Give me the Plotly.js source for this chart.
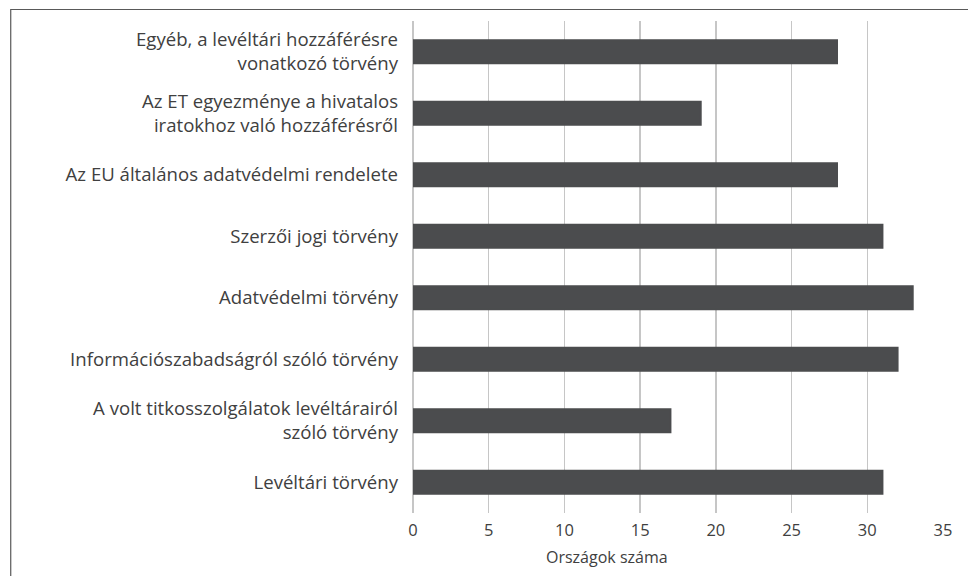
<!DOCTYPE html>
<html>
<head>
<meta charset="utf-8">
<script src="https://cdn.plot.ly/plotly-3.0.1.min.js"></script>
<style>html,body{margin:0;padding:0;background:#fff;}#chart{width:968px;height:576px;}</style>
</head>
<body>
<div id="chart"></div>
<script>
const categories = [
  "Egyéb, a levéltári hozzáférésre<br>vonatkozó törvény",
  "Az ET egyezménye a hivatalos<br>iratokhoz való hozzáférésről",
  "Az EU általános adatvédelmi rendelete",
  "Szerzői jogi törvény",
  "Adatvédelmi törvény",
  "Információszabadságról szóló törvény",
  "A volt titkosszolgálatok levéltárairól<br>szóló törvény",
  "Levéltári törvény"
];
const countries = [28, 19, 28, 31, 33, 32, 17, 31];
const xTicks = [0, 5, 10, 15, 20, 25, 30, 35];
const xTitle = "Országok száma";

const font = "'Open Sans', 'Noto Sans', sans-serif";
const trace = {
  type: "bar",
  orientation: "h",
  y: categories,
  x: countries,
  marker: {color: "#4b4c4e", line: {color: "#4b4c4e", width: 2}},
  hoverinfo: "none"
};
const layout = {
  width: 968, height: 576,
  margin: {l: 413, r: 25, t: 21, b: 63},
  paper_bgcolor: "#ffffff", plot_bgcolor: "#ffffff",
  showlegend: false,
  bargap: 0.626,
  font: {family: font, size: 16, color: "#404040"},
  xaxis: {
    range: [0, 35], tickvals: xTicks, ticktext: xTicks.map(String),
    showgrid: true, gridcolor: "#c6c6c6", gridwidth: 1.3,
    zeroline: true, zerolinecolor: "#c6c6c6", zerolinewidth: 1.3,
    showline: false, ticks: "", ticklabelstandoff: 5,
    tickfont: {family: font, size: 16.5, color: "#404040"},
    fixedrange: true
  },
  yaxis: {
    autorange: "reversed", type: "category",
    showgrid: false, zeroline: false, showline: false, ticks: "",
    ticklabelstandoff: 14,
    tickfont: {family: font, size: 18.6, color: "#404040"},
    fixedrange: true
  },
  annotations: [{
    text: xTitle, xref: "paper", yref: "paper", x: 0.366, y: -0.09,
    xanchor: "center", yanchor: "middle", showarrow: false,
    font: {family: font, size: 16, color: "#404040"}
  }],
  shapes: [{
    type: "rect", xref: "paper", yref: "paper",
    x0: -0.759, x1: 2, y0: -1, y1: 1.0234,
    line: {color: "#595959", width: 1.2}, fillcolor: "rgba(0,0,0,0)", layer: "below"
  }]
};
Plotly.newPlot("chart", [trace], layout, {staticPlot: true, displayModeBar: false});
</script>
</body>
</html>
